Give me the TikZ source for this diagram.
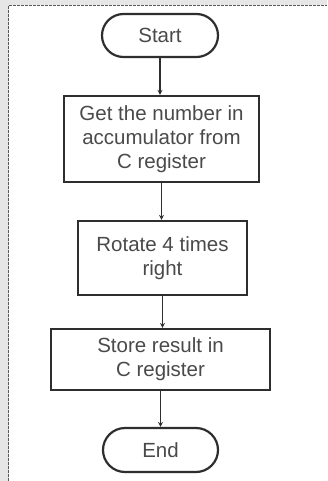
\documentclass[tikz,border=0pt]{standalone}
\usepackage{fontspec}
\setmainfont{Liberation Sans}
\usetikzlibrary{shapes.misc,arrows.meta}
\definecolor{edge}{HTML}{2E2E2E}
\definecolor{ink}{HTML}{4A4A4A}
\definecolor{frame}{HTML}{E6E6E6}
\begin{document}
\begin{tikzpicture}[x=1pt,y=-1pt,
  every node/.style={font=\fontsize{20.5}{24}\selectfont, text=ink, align=center, inner sep=0pt},
  proc/.style={draw=edge, line width=2.2pt, rectangle, fill=white},
  term/.style={draw=edge, line width=2.2pt, rounded rectangle, fill=white},
  flow/.style={draw=edge, line width=1.3pt, -{Stealth[length=5pt,width=5pt]}}]
  % page frame
  \useasboundingbox (0,0) rectangle (327,481);
  \fill[frame] (0,0) rectangle (327,481);
  \fill[white] (8.5,5.5) rectangle (327,481);
  \draw[edge!80, line width=1.6pt, dash pattern=on 3pt off 1pt] (8.5,481) -- (8.5,5.5) -- (327,5.5);
  % flowchart
  \node[term, minimum width=116pt, minimum height=43pt] (start) at (160,35.5) {Start};
  \node[proc, minimum width=195pt, minimum height=86pt] (get) at (161.5,139) {Get the number in\\accumulator from\\C register};
  \node[proc, minimum width=169pt, minimum height=74pt] (rot) at (162.5,258) {Rotate 4 times\\right};
  \node[proc, minimum width=219pt, minimum height=61pt] (store) at (160.5,359.5) {Store result in\\C register};
  \node[term, minimum width=115pt, minimum height=44pt] (end) at (160.5,450) {End};
  \draw[flow] (start.south) -- (start.south |- get.north);
  \draw[flow] (get.south) -- (get.south |- rot.north);
  \draw[flow] (rot.south) -- (rot.south |- store.north);
  \draw[flow] (store.south) -- (store.south |- end.north);
\end{tikzpicture}
\end{document}
